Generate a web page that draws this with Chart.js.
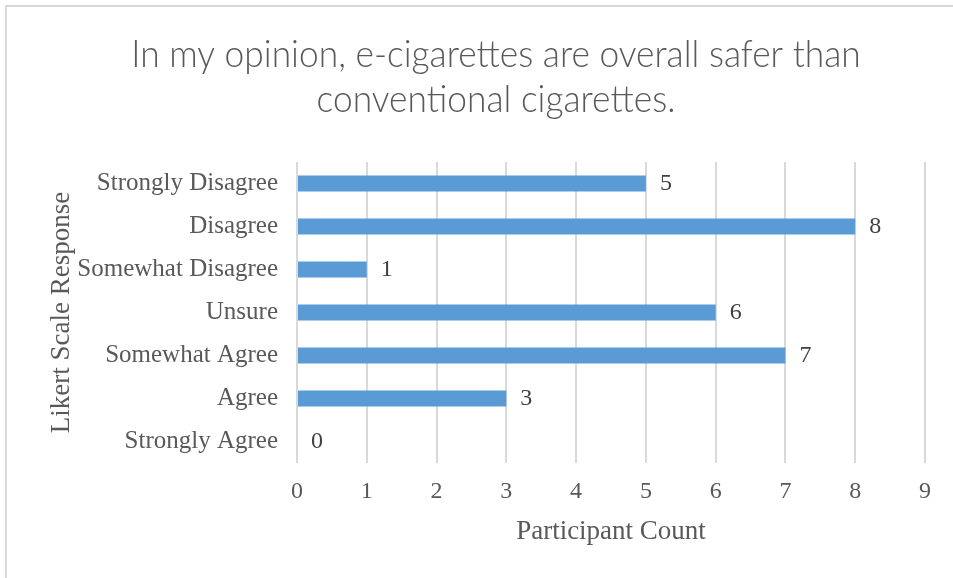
<!DOCTYPE html>
<html>
<head>
<meta charset="utf-8">
<script src="https://cdn.jsdelivr.net/npm/chart.js@4.4.1/dist/chart.umd.min.js"></script>
<style>
  html, body { margin: 0; padding: 0; background: #fff; overflow: hidden; }
  #frame {
    position: absolute; left: 5px; top: 5px; width: 1000px; height: 620px;
    border-left: 2px solid #d9d9d9; border-top: 2px solid #d9d9d9;
  }
  #wrap { position: absolute; left: 0; top: 0; width: 953px; height: 578px; }
</style>
</head>
<body>
<div id="frame"></div>
<div id="wrap"><canvas id="likertChart"></canvas></div>
<script>
// ---- data ----
const categories = ["Strongly Disagree", "Disagree", "Somewhat Disagree", "Unsure", "Somewhat Agree", "Agree", "Strongly Agree"];
const counts = [5, 8, 1, 6, 7, 3, 0];
const xTicks = [0, 1, 2, 3, 4, 5, 6, 7, 8, 9];
const titleLines = ["In my opinion, e-cigarettes are overall safer than", "conventional cigarettes."];
const xTitle = "Participant Count";
const yTitle = "Likert Scale Response";

const serif = "'Liberation Serif', 'Times New Roman', serif";
const grey = "#595959";

// chart title, centred on the whole (cropped) Excel chart, a bit condensed like Calibri Light
const titlePlugin = {
  id: "bigTitle",
  afterDraw(chart) {
    const ctx = chart.ctx;
    ctx.save();
    ctx.font = "300 38px Lato, Roboto, sans-serif";
    ctx.fillStyle = grey;
    ctx.textAlign = "center";
    ctx.textBaseline = "alphabetic";
    ctx.translate(496, 0);
    ctx.scale(0.93, 1);
    titleLines.forEach((t, i) => ctx.fillText(t, 0, 67 + i * 45));
    ctx.restore();
  }
};

// value labels at the end of each bar
const valueLabels = {
  id: "valueLabels",
  afterDatasetsDraw(chart) {
    const ctx = chart.ctx;
    const meta = chart.getDatasetMeta(0);
    ctx.save();
    ctx.font = "24px " + serif;
    ctx.fillStyle = "#404040";
    ctx.textAlign = "left";
    ctx.textBaseline = "middle";
    meta.data.forEach((bar, i) => {
      ctx.fillText(String(counts[i]), bar.x + 14, bar.y);
    });
    ctx.restore();
  }
};

new Chart(document.getElementById("likertChart"), {
  type: "bar",
  data: {
    labels: categories,
    datasets: [{
      data: counts,
      backgroundColor: "#5b9bd5",
      borderWidth: 0,
      barPercentage: 0.37,
      categoryPercentage: 1
    }]
  },
  options: {
    indexAxis: "y",
    responsive: true,
    maintainAspectRatio: false,
    animation: false,
    layout: { padding: { left: 5, right: 28, top: 162, bottom: 0 } },
    plugins: {
      legend: { display: false },
      title: { display: false },
      tooltip: { enabled: false }
    },
    scales: {
      x: {
        min: xTicks[0],
        max: xTicks[xTicks.length - 1],
        afterBuildTicks: s => { s.ticks = xTicks.map(v => ({ value: v })); },
        afterFit: s => { s.height = 115; },
        grid: { color: "#d9d9d9", lineWidth: 2, drawTicks: false },
        border: { display: false },
        ticks: { padding: 14, color: grey, font: { family: serif, size: 24 } },
        title: {
          display: true, text: xTitle, color: grey,
          font: { family: serif, size: 27 },
          padding: { top: 9, bottom: 30 }
        }
      },
      y: {
        afterFit: s => { s.width = 292; },
        grid: { display: false, drawTicks: false },
        border: { display: false },
        ticks: { padding: 19, color: grey, font: { family: serif, size: 25 } },
        title: {
          display: true, text: yTitle, color: grey,
          font: { family: serif, size: 27 },
          padding: { top: 41, bottom: 0 }
        }
      }
    }
  },
  plugins: [titlePlugin, valueLabels]
});
</script>
</body>
</html>
